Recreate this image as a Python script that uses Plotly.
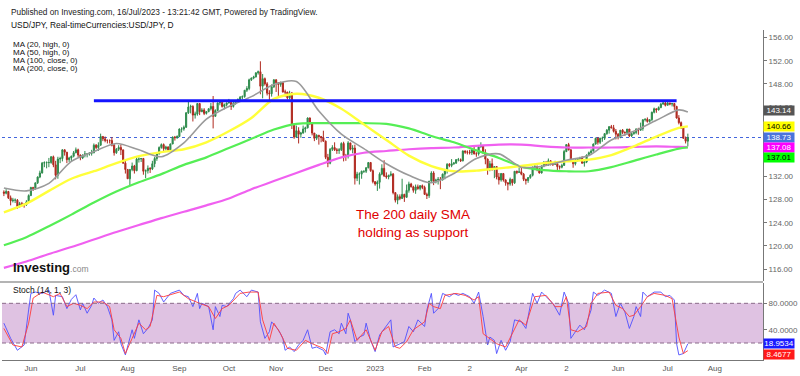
import pandas as pd
import plotly.graph_objects as go

FONT = "Liberation Sans, Arial, sans-serif"

# ---------------- data ----------------
start_date, last_date, axis_end = "2022-05-16", "2023-07-14", "2023-08-31"
dates = pd.bdate_range(start_date, last_date)
axis_dates = pd.bdate_range(start_date, axis_end)

opens = [
    129.3, 129.1, 129.4, 128.3, 127.8, 127.9, 127.9, 126.8, 127.3, 127.1, 127.1, 127.6,
    128.7, 130.1, 129.9, 130.9, 131.9, 132.6, 134.3, 134.4, 134.4, 134.4, 135.4, 134.0, 132.2,
    135.0, 135.1, 136.6, 136.2, 134.9, 135.2, 135.5, 136.1, 136.6,
    135.7, 135.2, 135.7, 135.9, 135.9, 136.0, 136.1, 137.4, 137.0, 137.4, 138.9,
    138.5, 138.2, 138.2, 138.2, 137.4, 136.1, 136.7, 137.0, 136.6, 134.3,
    133.2, 131.6, 133.2, 133.8, 133.0, 135.0, 135.0, 135.1, 132.9, 133.0, 133.4, 133.3,
    134.2, 135.1, 135.9, 137.0, 137.5, 136.8, 137.1, 136.6, 137.6, 138.8, 138.7,
    138.9, 140.2, 140.2, 140.5, 143.0, 144.0, 144.1, 142.6, 142.8, 144.6, 143.2, 143.5,
    142.9, 143.2, 143.7, 144.1, 142.4, 143.4, 144.7, 144.8, 144.1, 144.4,
    144.7, 144.8, 144.1, 144.6, 145.1, 145.3, 145.7, 145.8, 146.9, 147.2,
    148.7, 149.0, 149.2, 149.9, 150.1, 147.6, 148.9, 148.0, 146.4, 146.3, 147.5,
    148.7, 148.2, 147.9, 148.2, 146.6, 146.6, 145.6, 146.4, 141.0, 138.8, 139.9,
    139.3, 139.5, 140.2, 140.4, 142.1, 141.2, 139.5, 138.6, 139.1, 138.9, 138.7,
    138.1, 135.3, 134.3, 136.7, 137.0, 136.6, 136.5, 136.6, 137.7, 135.6, 135.5,
    137.8, 136.7, 136.9, 131.7, 132.4, 132.4, 132.9, 132.9, 133.5, 134.4, 133.0,
    131.1, 130.7, 131.0, 132.4, 133.4, 132.1, 131.9, 132.2, 132.4, 129.2, 127.9,
    128.5, 128.2, 128.9, 128.4, 129.6, 130.7, 130.2, 129.6, 130.2, 129.9, 130.4,
    130.1, 128.9, 128.7, 131.2, 132.6, 131.1, 131.4, 131.5, 131.4, 132.4,
    133.1, 134.1, 133.9, 134.2, 134.3, 134.9, 134.9, 134.7, 136.4, 136.2,
    136.2, 136.1, 136.7, 135.9, 135.9, 137.1, 137.3, 136.1, 135.0, 133.2, 134.2, 133.4,
    133.7, 131.9, 131.4, 132.5, 131.4, 130.9, 130.7, 131.5, 130.9, 132.9, 132.7,
    132.8, 132.4, 131.5, 131.3, 131.8, 132.2, 133.6, 133.7, 133.2, 132.6,
    133.8, 134.5, 134.1, 134.7, 134.2, 134.1, 134.2, 133.7, 133.6, 133.9,
    136.3, 137.5, 136.6, 134.7, 134.2, 134.8, 135.1, 135.2, 134.3, 134.5, 135.7, 136.1,
    136.4, 137.6, 138.6, 137.9, 138.6, 138.6, 139.4, 140.0, 140.6, 140.4, 139.8,
    139.3, 138.8, 140.0, 139.6, 139.6, 140.2, 139.0, 139.4, 139.6, 140.2, 140.0,
    140.3, 141.8, 141.9, 141.5, 141.8, 143.1, 143.7, 143.5, 143.9, 144.5, 144.7,
    144.3, 144.7, 144.5, 144.6, 144.1, 142.1, 141.3, 140.4, 138.6, 138.1,
]
highs = [
    129.6, 129.8, 129.5, 128.7, 128.3, 128.2, 128.1, 127.6, 127.6, 127.4, 127.9, 128.9,
    130.2, 130.2, 130.9, 132.0, 133.0, 134.5, 134.6, 134.6, 135.2, 135.5, 135.6, 134.7, 135.4,
    135.4, 136.7, 136.7, 136.2, 135.4, 135.6, 136.4, 137.0, 136.8,
    135.8, 135.8, 136.4, 136.0, 136.2, 136.6, 137.7, 137.6, 137.9, 139.4, 139.0,
    138.9, 138.4, 138.4, 138.8, 137.6, 136.9, 137.4, 137.5, 136.6, 134.7,
    133.3, 133.3, 134.4, 134.0, 135.5, 135.3, 135.2, 135.2, 133.2, 133.9, 133.6, 134.7,
    135.4, 136.0, 137.2, 137.7, 137.7, 137.3, 137.2, 137.7, 138.9, 139.0, 139.1,
    140.3, 140.5, 140.8, 143.1, 145.0, 144.4, 144.3, 143.2, 144.7, 144.7, 143.8, 143.8,
    143.3, 143.8, 144.7, 145.9, 143.6, 144.8, 144.9, 144.8, 144.6, 144.8,
    145.4, 144.9, 144.9, 145.2, 145.5, 145.9, 146.0, 146.9, 147.6, 148.9,
    149.1, 149.4, 150.0, 150.3, 151.9, 149.7, 149.1, 148.3, 146.9, 147.9, 148.8,
    148.8, 148.3, 148.4, 148.3, 147.0, 146.6, 146.8, 146.6, 141.2, 140.8, 140.5,
    139.7, 140.8, 140.6, 142.2, 142.2, 141.4, 139.5, 139.3, 139.2, 139.0, 139.9,
    138.2, 135.9, 136.9, 137.4, 137.9, 136.9, 136.9, 137.9, 138.0, 135.9, 138.1,
    137.8, 137.4, 137.5, 132.8, 132.7, 133.0, 133.0, 133.6, 134.5, 134.5, 133.2,
    131.2, 131.3, 132.7, 134.1, 134.8, 132.7, 132.3, 132.9, 132.6, 129.3, 128.9,
    128.9, 131.6, 129.0, 130.6, 131.1, 130.9, 130.4, 130.6, 130.6, 130.5, 130.6,
    130.4, 129.2, 131.2, 132.9, 132.9, 131.6, 131.9, 131.9, 132.5, 133.3,
    134.3, 134.3, 135.0, 134.5, 135.0, 135.2, 135.1, 136.5, 136.5, 136.5,
    136.6, 136.8, 137.1, 136.2, 137.3, 137.9, 137.4, 136.7, 135.1, 134.7, 135.1, 133.8,
    133.8, 132.6, 132.6, 132.6, 131.5, 131.0, 131.8, 131.5, 132.9, 133.0, 133.6,
    133.7, 132.6, 131.6, 131.9, 132.4, 133.7, 134.0, 133.9, 133.5, 133.9,
    134.6, 134.6, 135.1, 134.8, 134.4, 134.7, 134.4, 133.9, 134.2, 136.6,
    137.6, 137.8, 136.7, 134.9, 135.1, 135.2, 135.4, 135.5, 134.7, 135.8, 136.3, 136.7,
    137.7, 138.7, 138.8, 138.7, 138.9, 139.5, 140.2, 140.7, 140.9, 140.9, 140.2,
    139.5, 140.0, 140.2, 139.8, 140.2, 140.2, 139.6, 139.7, 140.3, 140.4, 141.3,
    141.9, 142.0, 142.2, 141.9, 143.2, 143.9, 143.7, 144.1, 144.7, 145.0, 145.1,
    144.9, 144.7, 144.7, 144.7, 144.2, 142.6, 141.5, 140.6, 138.9, 139.4,
]
lows = [
    128.6, 128.9, 128.1, 127.0, 127.5, 127.4, 126.4, 126.6, 126.8, 126.6, 126.9, 127.4,
    128.6, 129.5, 129.7, 130.7, 131.7, 132.5, 133.6, 133.4, 133.6, 134.2, 133.6, 131.5, 131.6,
    134.3, 134.6, 135.6, 134.3, 134.5, 134.5, 135.3, 136.0, 135.3,
    134.8, 135.0, 135.3, 135.3, 135.6, 135.6, 136.0, 136.7, 136.4, 137.3, 138.1,
    137.9, 137.7, 137.7, 137.2, 135.6, 135.9, 136.4, 135.7, 134.2, 132.5,
    131.6, 130.4, 132.9, 132.5, 132.9, 134.4, 134.5, 132.3, 131.7, 132.5, 132.6, 133.1,
    133.6, 134.7, 135.8, 136.8, 136.2, 136.5, 136.3, 136.3, 137.6, 138.2, 138.5,
    138.8, 139.6, 139.9, 140.4, 142.8, 142.9, 141.5, 142.0, 142.5, 142.6, 143.1, 142.6,
    142.7, 143.1, 143.4, 140.3, 142.3, 143.3, 144.3, 143.9, 143.6, 144.1,
    144.6, 143.5, 143.9, 144.4, 144.7, 145.1, 145.3, 145.6, 146.6, 146.9,
    148.5, 148.8, 149.1, 149.6, 146.2, 145.5, 147.7, 146.0, 145.1, 145.8, 147.3,
    146.6, 145.7, 147.5, 146.5, 145.8, 145.3, 145.3, 140.2, 138.5, 138.7, 137.7,
    138.7, 139.4, 139.6, 140.3, 140.9, 139.1, 138.1, 138.3, 137.5, 137.9, 138.0,
    135.0, 133.6, 134.1, 136.4, 136.4, 135.9, 135.9, 136.4, 134.6, 134.7, 135.1,
    136.5, 136.0, 130.6, 131.2, 130.6, 131.6, 132.6, 132.6, 133.4, 132.8, 130.8,
    130.4, 129.5, 129.9, 132.2, 131.9, 131.6, 131.5, 132.0, 128.9, 127.5, 127.2,
    127.9, 128.1, 127.6, 128.3, 129.2, 130.1, 129.2, 129.0, 129.7, 129.6, 129.8,
    128.8, 128.1, 128.3, 131.1, 130.5, 130.8, 130.6, 129.8, 131.3, 131.5,
    132.5, 133.6, 133.6, 134.0, 134.2, 134.6, 134.5, 134.6, 135.9, 135.8,
    135.8, 135.7, 135.8, 135.4, 135.6, 137.0, 135.9, 134.1, 132.3, 132.9, 133.0, 131.7,
    131.5, 130.6, 131.1, 131.1, 130.4, 129.6, 130.4, 130.4, 130.7, 132.4, 132.6,
    132.2, 131.2, 130.6, 130.9, 131.6, 132.0, 133.1, 132.9, 132.5, 132.5,
    133.6, 133.9, 133.8, 133.9, 133.8, 134.0, 133.0, 133.2, 133.4, 133.9,
    136.2, 136.5, 134.6, 133.5, 133.9, 134.6, 134.7, 134.2, 133.7, 134.3, 135.5, 135.8,
    136.3, 137.5, 137.5, 137.6, 138.0, 138.3, 139.2, 139.4, 140.3, 139.6, 138.4,
    138.4, 138.6, 139.3, 139.0, 139.2, 138.8, 138.8, 139.2, 139.3, 139.2, 139.9,
    139.9, 141.5, 141.3, 141.3, 141.6, 142.9, 143.0, 143.4, 143.8, 144.4, 144.1,
    144.3, 144.3, 144.1, 143.5, 142.0, 141.0, 140.2, 138.5, 137.7, 137.2,
]
closes = [
    129.1, 129.4, 128.3, 127.8, 127.9, 127.9, 126.8, 127.3, 127.1, 127.1, 127.6, 128.7,
    130.1, 129.9, 130.9, 131.9, 132.6, 134.3, 134.4, 134.4, 134.4, 135.4, 134.0, 132.2, 135.0,
    135.1, 136.6, 136.2, 134.9, 135.2, 135.5, 136.1, 136.6, 135.7,
    135.2, 135.7, 135.9, 135.9, 136.0, 136.1, 137.4, 137.0, 137.4, 138.9, 138.5,
    138.2, 138.2, 138.2, 137.4, 136.1, 136.7, 137.0, 136.6, 134.3, 133.2,
    131.6, 133.2, 133.8, 133.0, 135.0, 135.0, 135.1, 132.9, 133.0, 133.4, 133.3, 134.2,
    135.1, 135.9, 137.0, 137.5, 136.8, 137.1, 136.6, 137.6, 138.8, 138.7, 138.9,
    140.2, 140.2, 140.5, 143.0, 144.0, 144.1, 142.6, 142.8, 144.6, 143.2, 143.5, 142.9,
    143.2, 143.7, 144.1, 142.4, 143.4, 144.7, 144.8, 144.1, 144.4, 144.7,
    144.8, 144.1, 144.6, 145.1, 145.3, 145.7, 145.8, 146.9, 147.2, 148.7,
    149.0, 149.2, 149.9, 150.1, 147.6, 148.9, 148.0, 146.4, 146.3, 147.5, 148.7,
    148.2, 147.9, 148.2, 146.6, 146.6, 145.6, 146.4, 141.0, 138.8, 139.9, 139.3,
    139.5, 140.2, 140.4, 142.1, 141.2, 139.5, 138.6, 139.1, 138.9, 138.7, 138.1,
    135.3, 134.3, 136.7, 137.0, 136.6, 136.5, 136.6, 137.7, 135.6, 135.5, 137.8,
    136.7, 136.9, 131.7, 132.4, 132.4, 132.9, 132.9, 133.5, 134.4, 133.0, 131.1,
    130.7, 131.0, 132.4, 133.4, 132.1, 131.9, 132.2, 132.4, 129.2, 127.9, 128.5,
    128.2, 128.9, 128.4, 129.6, 130.7, 130.2, 129.6, 130.2, 129.9, 130.4, 130.1,
    128.9, 128.7, 131.2, 132.6, 131.1, 131.4, 131.5, 131.4, 132.4, 133.1,
    134.1, 133.9, 134.2, 134.3, 134.9, 134.9, 134.7, 136.4, 136.2, 136.2,
    136.1, 136.7, 135.9, 135.9, 137.1, 137.3, 136.1, 135.0, 133.2, 134.2, 133.4, 133.7,
    131.9, 131.4, 132.5, 131.4, 130.9, 130.7, 131.5, 130.9, 132.9, 132.7, 132.8,
    132.4, 131.5, 131.3, 131.8, 132.2, 133.6, 133.7, 133.2, 132.6, 133.8,
    134.5, 134.1, 134.7, 134.2, 134.1, 134.2, 133.7, 133.6, 133.9, 136.3,
    137.5, 136.6, 134.7, 134.2, 134.8, 135.1, 135.2, 134.3, 134.5, 135.7, 136.1, 136.4,
    137.6, 138.6, 137.9, 138.6, 138.6, 139.4, 140.0, 140.6, 140.4, 139.8, 139.3,
    138.8, 140.0, 139.6, 139.6, 140.2, 139.0, 139.4, 139.6, 140.2, 140.0, 140.3,
    141.8, 141.9, 141.5, 141.8, 143.1, 143.7, 143.5, 143.9, 144.5, 144.7, 144.3,
    144.7, 144.5, 144.6, 144.1, 142.1, 141.3, 140.4, 138.6, 138.1, 138.73,
]

ma_bars = [0, 10, 20, 30, 40, 50, 60, 70, 80, 90, 100, 110, 120, 130, 140, 150,
           160, 170, 180, 190, 200, 210, 220, 230, 240, 250, 260, 270, 280, 290, 300, 304]
ma20_high = [130.0, 129.5, 130.8, 134.6, 136.3, 137.7, 136.6, 135.4, 137.8, 141.9, 144.1, 145.8,
             147.9, 148.4, 143.3, 139.3, 136.8, 134.2, 132.2, 130.9, 132.5, 135.1, 135.9, 133.6,
             133.8, 134.8, 135.6, 138.3, 139.8, 141.7, 143.5, 143.14]
ma50_high = [125.8, 127.3, 129.5, 131.6, 132.9, 134.3, 135.5, 136.2, 136.7, 137.9, 139.8, 142.1,
             145.4, 146.3, 145.6, 143.7, 141.0, 138.3, 135.6, 133.8, 132.9, 133.0, 133.4, 133.8,
             134.3, 134.6, 134.9, 135.7, 137.2, 138.9, 140.4, 140.66]
ma100_close = [120.1, 121.5, 123.4, 125.4, 127.5, 129.4, 131.0, 132.4, 134.0, 135.3, 136.9, 138.5,
               140.1, 141.1, 141.2, 141.2, 141.2, 141.1, 140.3, 139.0, 137.9, 136.5, 135.2, 133.7,
               133.1, 132.9, 132.9, 133.6, 134.7, 135.8, 136.8, 137.01]
ma200_close = [116.2, 117.3, 118.6, 119.8, 121.1, 122.4, 123.6, 124.8, 125.9, 127.0, 128.2, 129.8,
               131.2, 132.6, 134.0, 135.3, 136.1, 136.4, 136.7, 136.9, 137.0, 137.3, 137.5, 137.5,
               137.2, 137.0, 137.0, 137.0, 137.1, 137.2, 137.1, 137.08]

k_bars = [0, 3, 6, 9, 11, 12, 14, 17, 20, 22,
          23, 26, 28, 30, 32, 34, 35, 37, 39, 40,
          42, 44, 46, 48, 49, 51, 52, 54, 57, 58,
          60, 62, 64, 66, 67, 69, 71, 74, 78, 80,
          82, 84, 86, 87, 88, 91, 93, 94, 96, 97,
          99, 102, 103, 105, 108, 110, 113, 114, 116, 118,
          119, 122, 124, 125, 127, 129, 131, 133, 135, 137,
          139, 142, 143, 145, 147, 149, 150, 152, 153, 154,
          156, 158, 160, 161, 163, 165, 167, 169, 172, 173,
          175, 178, 180, 182, 184, 187, 188, 190, 191, 193,
          195, 198, 200, 202, 204, 207, 209, 211, 213, 215,
          216, 218, 219, 221, 223, 225, 227, 230, 232, 233,
          235, 237, 239, 241, 244, 247, 249, 251, 252, 255,
          256, 258, 261, 262, 264, 267, 270, 272, 274, 276,
          278, 280, 281, 283, 284, 286, 289, 292, 294, 296,
          298, 299, 300, 302, 303, 304]
k_vals = [50, 27, 9, 17, 70, 95, 97, 95, 100, 62,
          92, 90, 72, 86, 93, 70, 80, 65, 77, 88,
          80, 85, 75, 55, 24, 37, 19, 2, 40, 27,
          55, 34, 42, 55, 100, 95, 82, 95, 100, 92,
          90, 75, 95, 72, 80, 75, 40, 75, 60, 77,
          75, 87, 95, 100, 90, 100, 97, 52, 27, 37,
          52, 40, 27, 9, 14, 7, 17, 24, 40, 12,
          14, 9, 2, 37, 40, 34, 50, 34, 65, 55,
          22, 29, 32, 50, 24, 7, 32, 42, 55, 14,
          17, 22, 45, 37, 55, 45, 70, 95, 65, 72,
          95, 90, 95, 92, 95, 90, 80, 97, 60, 17,
          29, 24, 4, 24, 9, 22, 55, 52, 42, 60,
          95, 80, 97, 90, 80, 62, 97, 80, 27, 42,
          47, 40, 70, 97, 92, 100, 95, 60, 80, 67,
          42, 60, 75, 60, 97, 90, 97, 97, 90, 92,
          85, 19, 2, 4, 12, 18.9534]
d_bars = [0, 4, 8, 11, 13, 17, 22, 25, 28, 31,
          34, 37, 40, 44, 47, 49, 52, 54, 57, 60,
          63, 65, 68, 71, 78, 82, 87, 91, 94, 97,
          100, 105, 109, 113, 115, 118, 120, 123, 126, 130,
          134, 137, 142, 144, 146, 149, 152, 154, 157, 161,
          165, 168, 171, 174, 176, 179, 182, 184, 187, 189,
          191, 194, 196, 201, 205, 209, 211, 213, 216, 219,
          223, 226, 229, 232, 234, 236, 241, 245, 248, 250,
          252, 255, 259, 261, 264, 269, 272, 275, 278, 280,
          283, 286, 289, 294, 297, 300, 302, 304]
d_vals = [42, 17, 14, 50, 88, 97, 90, 95, 75, 80,
          77, 72, 82, 82, 75, 40, 27, 4, 27, 50,
          40, 45, 92, 90, 97, 87, 80, 75, 57, 72,
          77, 95, 97, 97, 55, 24, 50, 34, 12, 9,
          24, 19, 12, 4, 34, 37, 42, 55, 24, 40,
          9, 37, 45, 14, 12, 22, 40, 45, 52, 80,
          75, 72, 92, 95, 92, 85, 90, 34, 27, 19,
          14, 34, 55, 47, 70, 90, 92, 75, 75, 90,
          40, 37, 45, 80, 95, 97, 77, 72, 60, 62,
          75, 90, 95, 92, 87, 29, 4, 8.4677]

resistance_level = 145.1
resistance_dates = ["2022-07-11", "2023-07-07"]
stoch_levels = [20, 80]
price_ticks = [116, 120, 124, 128, 132, 144, 148, 152, 156]
month_labels = ["Jun", "Jul", "Aug", "Sep", "Oct", "Nov", "Dec", "2023",
                "Feb", "2", "Apr", "2", "Jun", "Jul", "Aug"]

# ---------------- helpers ----------------
bar_of = {d: i for i, d in enumerate(axis_dates)}
bars = [bar_of[d] for d in dates]
month_start = pd.Series(range(len(axis_dates)), index=axis_dates)
month_first = month_start.groupby([axis_dates.year, axis_dates.month]).min().tolist()[1:]

fig = go.Figure()

fig.add_trace(go.Candlestick(
    x=bars, open=opens, high=highs, low=lows, close=closes,
    increasing=dict(line=dict(color="#2e8b4c", width=1), fillcolor="#2e8b4c"),
    decreasing=dict(line=dict(color="#b0281e", width=1), fillcolor="#b0281e"),
    whiskerwidth=0, showlegend=False, hoverinfo="skip", xaxis="x", yaxis="y"))

ma_styles = [
    (ma200_close, "#f060f0", 2.2),
    (ma100_close, "#55ee55", 2.2),
    (ma50_high, "#ffff3a", 2.4),
    (ma20_high, "#9a9a9a", 1.6),
]
for vals, col, w in ma_styles:
    fig.add_trace(go.Scatter(x=ma_bars, y=vals, mode="lines",
                             line=dict(color=col, width=w, shape="spline", smoothing=0.8),
                             hoverinfo="skip", showlegend=False, xaxis="x", yaxis="y"))

fig.add_trace(go.Scatter(x=[bar_of[pd.Timestamp(d)] for d in resistance_dates],
                         y=[resistance_level] * 2, mode="lines",
                         line=dict(color="#1414ff", width=3),
                         hoverinfo="skip", showlegend=False, xaxis="x", yaxis="y"))

fig.add_trace(go.Scatter(x=k_bars, y=k_vals, mode="lines",
                         line=dict(color="rgba(80,80,255,0.9)", width=1),
                         hoverinfo="skip", showlegend=False, xaxis="x", yaxis="y2"))
fig.add_trace(go.Scatter(x=d_bars, y=d_vals, mode="lines",
                         line=dict(color="rgba(255,60,60,0.9)", width=1),
                         hoverinfo="skip", showlegend=False, xaxis="x", yaxis="y2"))

shapes = [
    dict(type="rect", xref="paper", x0=0, x1=1, yref="y2", y0=stoch_levels[0], y1=stoch_levels[1],
         fillcolor="#dfc2e2", line=dict(width=0), layer="below"),
    dict(type="line", xref="paper", x0=-0.01, x1=1, yref="paper", y0=0.2364, y1=0.2364,
         line=dict(color="#b4b4b4", width=2)),
    dict(type="line", xref="paper", x0=0, x1=1, yref="y", y0=closes[-1], y1=closes[-1],
         line=dict(color="#4466dd", width=1, dash="dot"), layer="below"),
]
for lv in stoch_levels:
    shapes.append(dict(type="line", xref="paper", x0=0, x1=1, yref="y2", y0=lv, y1=lv,
                       line=dict(color="#8a6a8a", width=1, dash="4px,3px")))

def px_x(p):
    return (p - 2) / 763

def px_y(p):
    return (360 - p) / 330

ann = [
    dict(text="Published on Investing.com, 16/Jul/2023 - 13:21:42 GMT, Powered by TradingView.",
         x=px_x(9), y=px_y(12), font=dict(size=8.3, color="#222")),
    dict(text="USD/JPY, Real-timeCurrencies:USD/JPY, D",
         x=px_x(9), y=px_y(25), font=dict(size=8.4, color="#111")),
    dict(text="MA (20, high, 0)", x=px_x(11), y=px_y(45), font=dict(size=8, color="#111")),
    dict(text="MA (50, high, 0)", x=px_x(11), y=px_y(52.7), font=dict(size=8, color="#111")),
    dict(text="MA (100, close, 0)", x=px_x(11), y=px_y(60.4), font=dict(size=8, color="#111")),
    dict(text="MA (200, close, 0)", x=px_x(11), y=px_y(68.1), font=dict(size=8, color="#111")),
    dict(text="Stoch (14, 1, 3)", x=px_x(11), y=px_y(290), font=dict(size=8.5, color="#111")),
    dict(text="<b>Investing</b><span style='font-size:8.5px;color:#888'>.com</span>",
         x=px_x(11), y=px_y(267), font=dict(size=13, color="#111")),
]
annotations = []
for a in ann:
    a.update(xref="paper", yref="paper", xanchor="left", yanchor="middle", showarrow=False)
    a["font"]["family"] = FONT
    annotations.append(a)

annotations.append(dict(text="The 200 daily SMA<br>holding as support", xref="paper", yref="paper",
                        x=px_x(414), y=px_y(223), xanchor="center", yanchor="middle",
                        showarrow=False, align="center",
                        font=dict(size=13.5, color="#e00000", family=FONT)))

badges = [
    ("y", ma20_high[-1], "#555555", "white", 1),
    ("y", ma50_high[-1], "#ffff00", "black", 0),
    ("y", closes[-1], "#4a74dc", "white", 0),
    ("y", ma200_close[-1], "#ff00ff", "white", 0),
    ("y", ma100_close[-1], "#00ff00", "black", -10),
    ("y2", k_vals[-1], "#1a1aff", "white", 0),
    ("y2", d_vals[-1], "#ff1a1a", "white", -4),
]
for ref, val, bg, fg, shift in badges:
    txt = f"{val:.2f}" if ref == "y" else f"{val:.4f}"
    annotations.append(dict(text=txt, xref="paper", yref=ref, x=1, y=val, xanchor="left",
                            yanchor="middle", yshift=shift, showarrow=False, bgcolor=bg,
                            width=30, height=9, borderpad=0,
                            font=dict(size=8, color=fg, family=FONT)))

fig.update_layout(
    width=800, height=376,
    margin=dict(l=2, r=35, t=30, b=16),
    paper_bgcolor="white", plot_bgcolor="white",
    showlegend=False,
    font=dict(family=FONT),
    xaxis=dict(range=[-0.84, 337.4], anchor="y2", showgrid=False, zeroline=False,
               showline=True, linecolor="#777", linewidth=1, ticks="",
               tickvals=month_first, ticktext=month_labels,
               tickfont=dict(size=8, color="#555"), rangeslider=dict(visible=False)),
    yaxis=dict(domain=[0.2394, 1], range=[113.93, 157.31], side="right", anchor="x",
               showgrid=False, zeroline=False, showline=True, linecolor="#777",
               ticks="outside", ticklen=3, tickcolor="#777", tickvals=price_ticks,
               tickformat=".2f", tickfont=dict(size=8, color="#666")),
    yaxis2=dict(domain=[0, 0.2333], range=[-5.7, 110.7], side="right", anchor="x",
                showgrid=False, zeroline=False, showline=True, linecolor="#777",
                ticks="outside", ticklen=3, tickcolor="#777", tickvals=[40, 80],
                ticktext=["40.0000", "80.0000"], tickfont=dict(size=8, color="#666")),
    shapes=shapes,
    annotations=annotations,
)

fig.write_html("out.html", config={"displayModeBar": False},
               post_script="document.body.style.margin='0';document.body.style.overflow='hidden';")
